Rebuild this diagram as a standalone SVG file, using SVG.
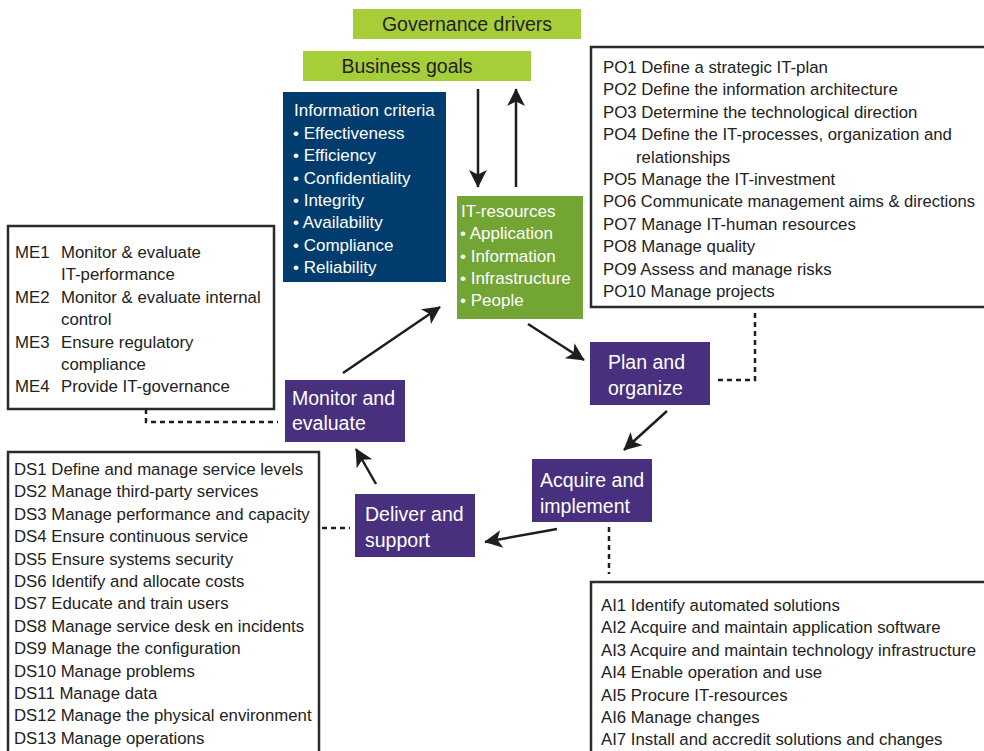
<svg xmlns="http://www.w3.org/2000/svg" width="984" height="751" viewBox="0 0 984 751">
<style>
text{font-family:"Liberation Sans",Arial,sans-serif;}
.lst{font-size:16.8px;fill:#222;}
.wl{font-size:17px;fill:#fff;}
.ph{font-size:19.5px;fill:#fff;}
.hd{font-size:19.5px;fill:#222;}
.box{fill:#fff;stroke:#2b2b2b;stroke-width:2.5;}
.pur{fill:#48307f;}
.arr{stroke:#1e1e1e;stroke-width:2.5;fill:none;marker-end:url(#ah);}
.dash{stroke:#1e1e1e;stroke-width:2.5;fill:none;stroke-dasharray:5,4;}
</style>
<defs>
<marker id="ah" viewBox="0 0 12 12" refX="11" refY="6" markerWidth="8.5" markerHeight="8.5" markerUnits="userSpaceOnUse" orient="auto" overflow="visible">
<path d="M0,0 L12,6 L0,12 L3,6 Z" fill="#1e1e1e" transform="scale(2.1) translate(-6.2,-3.1)"/>
</marker>
</defs>
<rect width="984" height="751" fill="#fff"/>

<g id="governance">
<rect x="353" y="9" width="228" height="30" fill="#a6ce39"/>
<text class="hd" x="467" y="31" text-anchor="middle">Governance drivers</text>
</g>
<g id="business">
<rect x="303" y="51" width="228" height="30" fill="#a6ce39"/>
<text class="hd" x="407" y="73" text-anchor="middle">Business goals</text>
</g>

<g id="infocriteria">
<rect x="283" y="92" width="163" height="190" fill="#003d6e"/>
<text class="wl" x="294" y="116">Information criteria</text>
<text class="wl" x="293" y="138.5">• Effectiveness</text>
<text class="wl" x="293" y="161">• Efficiency</text>
<text class="wl" x="293" y="183.5">• Confidentiality</text>
<text class="wl" x="293" y="205.5">• Integrity</text>
<text class="wl" x="293" y="228">• Availability</text>
<text class="wl" x="293" y="250.5">• Compliance</text>
<text class="wl" x="293" y="272.5">• Reliability</text>
</g>

<g id="itresources">
<rect x="457" y="196" width="126" height="123" fill="#72a533"/>
<text class="wl" x="461" y="217">IT-resources</text>
<text class="wl" x="460" y="239">• Application</text>
<text class="wl" x="460" y="261.5">• Information</text>
<text class="wl" x="460" y="284">• Infrastructure</text>
<text class="wl" x="460" y="306">• People</text>
</g>

<g id="po">
<rect x="591" y="47" width="400" height="260" class="box"/>
<text class="lst" x="603" y="73">PO1 Define a strategic IT-plan</text>
<text class="lst" x="603" y="95.4">PO2 Define the information architecture</text>
<text class="lst" x="603" y="117.8">PO3 Determine the technological direction</text>
<text class="lst" x="603" y="140.2">PO4 Define the IT-processes, organization and</text>
<text class="lst" x="636" y="162.6">relationships</text>
<text class="lst" x="603" y="185">PO5 Manage the IT-investment</text>
<text class="lst" x="603" y="207.4" textLength="372" lengthAdjust="spacingAndGlyphs">PO6 Communicate management aims &amp; directions</text>
<text class="lst" x="603" y="229.8">PO7 Manage IT-human resources</text>
<text class="lst" x="603" y="252.2">PO8 Manage quality</text>
<text class="lst" x="603" y="274.6">PO9 Assess and manage risks</text>
<text class="lst" x="603" y="297">PO10 Manage projects</text>
</g>

<g id="me">
<rect x="8" y="226" width="266" height="183" class="box"/>
<text class="lst" x="15" y="258">ME1</text>
<text class="lst" x="61" y="258">Monitor &amp; evaluate</text>
<text class="lst" x="61" y="280.4">IT-performance</text>
<text class="lst" x="15" y="302.8">ME2</text>
<text class="lst" x="61" y="302.8">Monitor &amp; evaluate internal</text>
<text class="lst" x="61" y="325.2">control</text>
<text class="lst" x="15" y="347.6">ME3</text>
<text class="lst" x="61" y="347.6">Ensure regulatory</text>
<text class="lst" x="61" y="370">compliance</text>
<text class="lst" x="15" y="392.4">ME4</text>
<text class="lst" x="61" y="392.4">Provide IT-governance</text>
</g>

<g id="ds">
<rect x="8" y="452" width="311" height="310" class="box"/>
<text class="lst" x="14" y="475">DS1 Define and manage service levels</text>
<text class="lst" x="14" y="497.4">DS2 Manage third-party services</text>
<text class="lst" x="14" y="519.8">DS3 Manage performance and capacity</text>
<text class="lst" x="14" y="542.2">DS4 Ensure continuous service</text>
<text class="lst" x="14" y="564.6">DS5 Ensure systems security</text>
<text class="lst" x="14" y="587">DS6 Identify and allocate costs</text>
<text class="lst" x="14" y="609.4">DS7 Educate and train users</text>
<text class="lst" x="14" y="631.8">DS8 Manage service desk en incidents</text>
<text class="lst" x="14" y="654.2">DS9 Manage the configuration</text>
<text class="lst" x="14" y="676.6">DS10 Manage problems</text>
<text class="lst" x="14" y="699">DS11 Manage data</text>
<text class="lst" x="14" y="721.4">DS12 Manage the physical environment</text>
<text class="lst" x="14" y="743.8">DS13 Manage operations</text>
</g>

<g id="ai">
<rect x="591" y="582" width="400" height="180" class="box"/>
<text class="lst" x="601" y="611">AI1 Identify automated solutions</text>
<text class="lst" x="601" y="633.4">AI2 Acquire and maintain application software</text>
<text class="lst" x="601" y="655.8">AI3 Acquire and maintain technology infrastructure</text>
<text class="lst" x="601" y="678.2">AI4 Enable operation and use</text>
<text class="lst" x="601" y="700.6">AI5 Procure IT-resources</text>
<text class="lst" x="601" y="723">AI6 Manage changes</text>
<text class="lst" x="601" y="745.4">AI7 Install and accredit solutions and changes</text>
</g>

<g id="plan">
<rect x="590" y="342" width="120" height="63" class="pur"/>
<text class="ph" x="608" y="369">Plan and</text>
<text class="ph" x="608" y="395">organize</text>
</g>
<g id="acquire">
<rect x="532" y="459" width="120" height="63" class="pur"/>
<text class="ph" x="540" y="487">Acquire and</text>
<text class="ph" x="540" y="513">implement</text>
</g>
<g id="deliver">
<rect x="355" y="494" width="120" height="63" class="pur"/>
<text class="ph" x="365" y="521">Deliver and</text>
<text class="ph" x="365" y="547">support</text>
</g>
<g id="monitor">
<rect x="285" y="380" width="120" height="62" class="pur"/>
<text class="ph" x="292" y="405">Monitor and</text>
<text class="ph" x="292" y="430">evaluate</text>
</g>

<g id="connectors">
<line class="arr" x1="478" y1="89" x2="478" y2="187"/>
<line class="arr" x1="516" y1="187" x2="516" y2="89"/>
<line class="arr" x1="528" y1="324" x2="584" y2="360"/>
<line class="arr" x1="667" y1="411" x2="624" y2="450"/>
<line class="arr" x1="557" y1="529" x2="485" y2="542"/>
<line class="arr" x1="376" y1="484" x2="356" y2="449"/>
<line class="arr" x1="343" y1="373" x2="440" y2="307"/>
<polyline class="dash" points="755,313 755,380 714,380"/>
<line class="dash" x1="609" y1="527" x2="609" y2="574"/>
<line class="dash" x1="322" y1="528" x2="350" y2="528"/>
<polyline class="dash" points="146,409 146,422 278,422"/>
</g>
</svg>
